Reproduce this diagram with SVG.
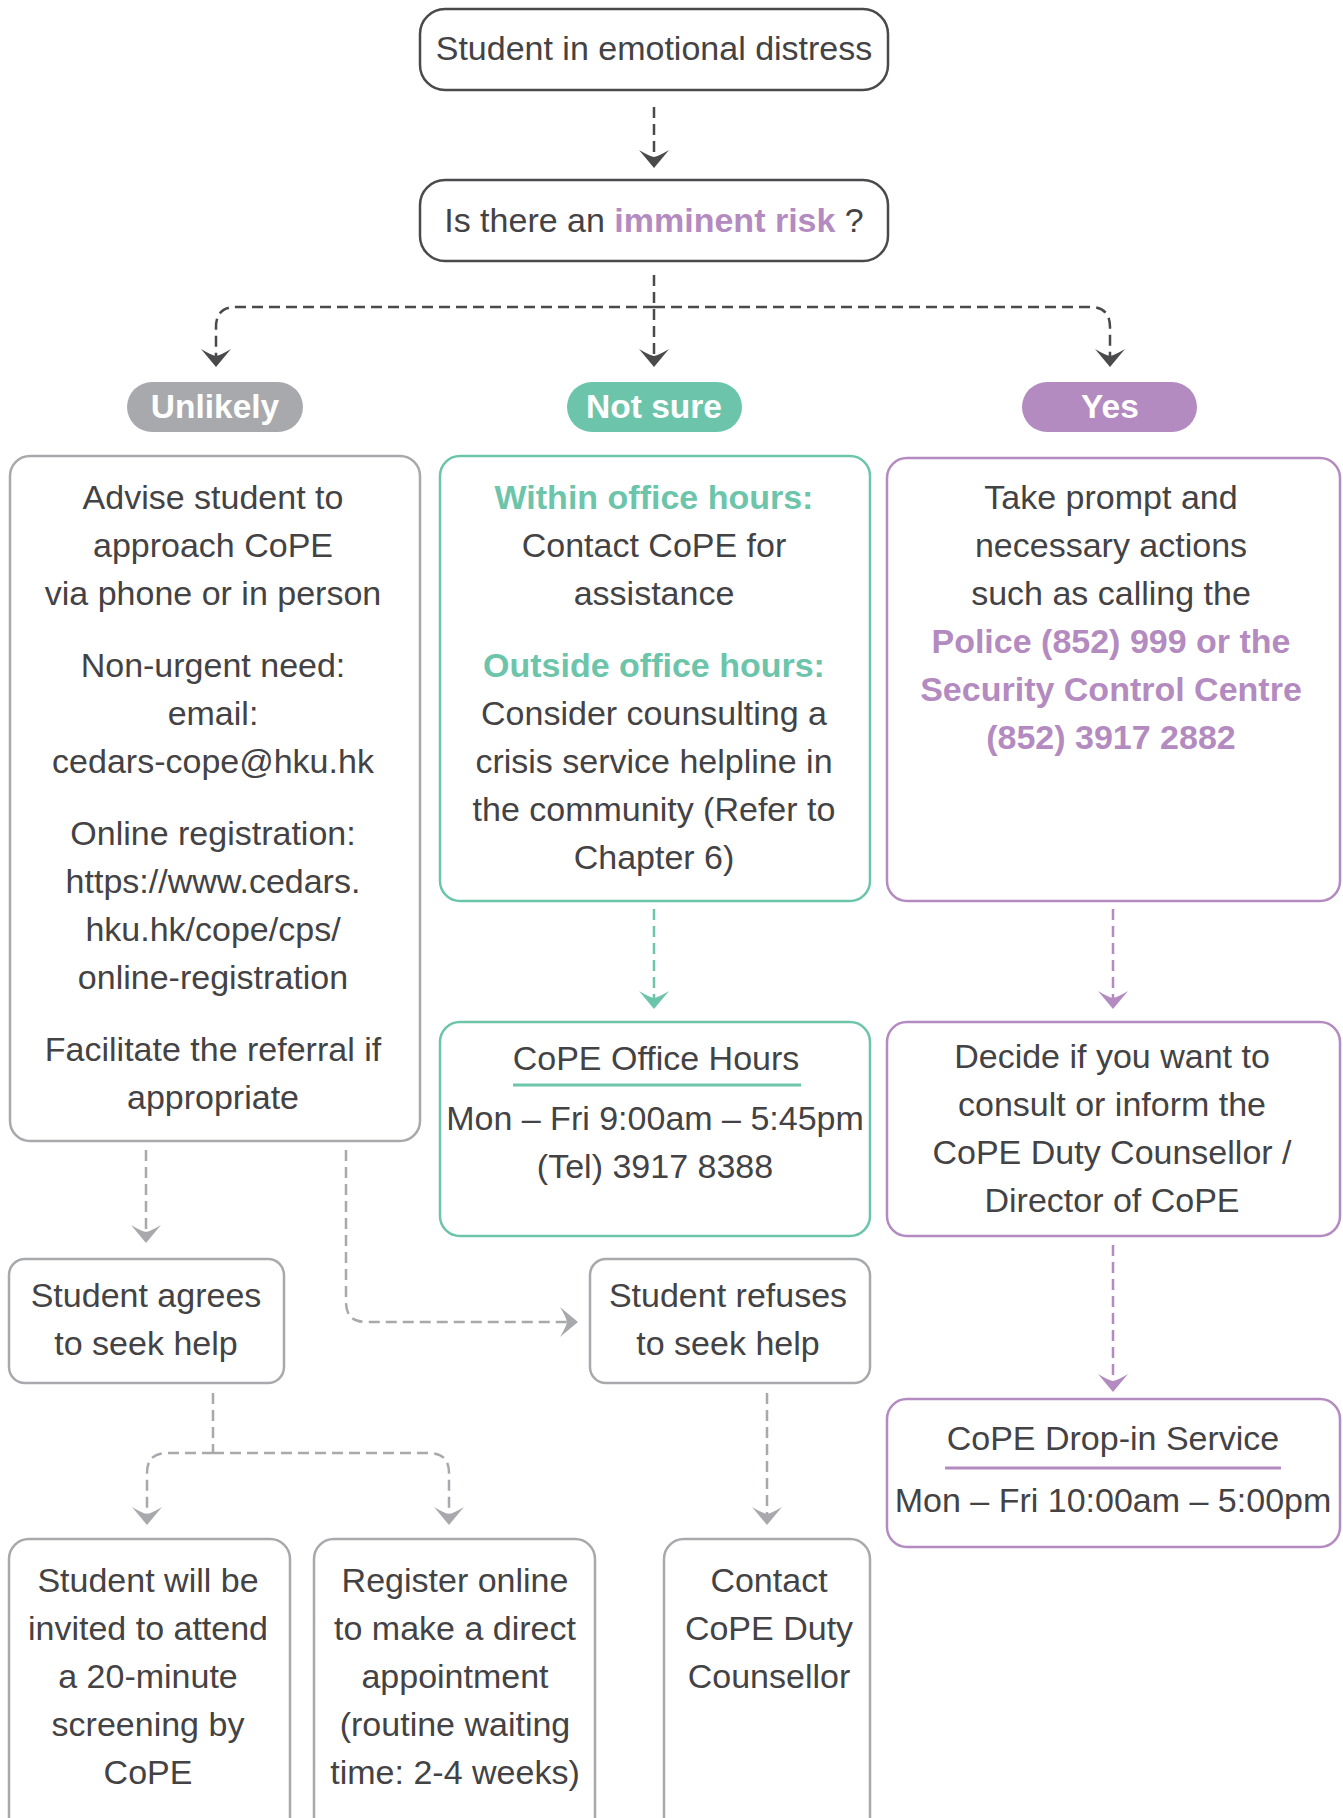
<svg xmlns="http://www.w3.org/2000/svg" width="1343" height="1818" viewBox="0 0 1343 1818">
<style>
  text { font-family: "Liberation Sans", Arial, Helvetica, sans-serif; font-size: 34px; fill: #434244; text-anchor: middle; }
  .b { font-weight: bold; }
  .pill { font-weight: bold; fill: #ffffff; font-size: 33.5px; }
  .teal { fill: #6cc5aa; }
  .purple { fill: #b38bc0; }
  .box-dark { fill: #ffffff; stroke: #4a4a4c; stroke-width: 2.5; }
  .box-gray { fill: #ffffff; stroke: #a8a9ac; stroke-width: 2.5; }
  .box-teal { fill: #ffffff; stroke: #6cc5aa; stroke-width: 2.5; }
  .box-purple { fill: #ffffff; stroke: #b38bc0; stroke-width: 2.5; }
  .c { fill: none; stroke-width: 2.5; stroke-dasharray: 11 6; }
  .c-dark { stroke: #4a4a4c; marker-end: url(#ah-dark); }
  .c-gray { stroke: #a8a9ac; marker-end: url(#ah-gray); }
  .c-gray-n { stroke: #a8a9ac; }
  .c-teal { stroke: #6cc5aa; marker-end: url(#ah-teal); }
  .c-purple { stroke: #b38bc0; marker-end: url(#ah-purple); }
  .ul-teal { stroke: #6cc5aa; stroke-width: 3; }
  .ul-purple { stroke: #b38bc0; stroke-width: 3; }
</style>
<defs>
  <marker id="ah-dark" markerUnits="userSpaceOnUse" markerWidth="40" markerHeight="40" viewBox="-20 -20 40 40" refX="0" refY="0" orient="auto" overflow="visible">
    <path d="M8,0 L-10,-15 Q-4,-5 -3,0 Q-4,5 -10,15 Z" fill="#4a4a4c"/>
  </marker>
  <marker id="ah-gray" markerUnits="userSpaceOnUse" markerWidth="40" markerHeight="40" viewBox="-20 -20 40 40" refX="0" refY="0" orient="auto" overflow="visible">
    <path d="M8,0 L-10,-15 Q-4,-5 -3,0 Q-4,5 -10,15 Z" fill="#a8a9ac"/>
  </marker>
  <marker id="ah-teal" markerUnits="userSpaceOnUse" markerWidth="40" markerHeight="40" viewBox="-20 -20 40 40" refX="0" refY="0" orient="auto" overflow="visible">
    <path d="M8,0 L-10,-15 Q-4,-5 -3,0 Q-4,5 -10,15 Z" fill="#6cc5aa"/>
  </marker>
  <marker id="ah-purple" markerUnits="userSpaceOnUse" markerWidth="40" markerHeight="40" viewBox="-20 -20 40 40" refX="0" refY="0" orient="auto" overflow="visible">
    <path d="M8,0 L-10,-15 Q-4,-5 -3,0 Q-4,5 -10,15 Z" fill="#b38bc0"/>
  </marker>
</defs>
<rect width="1343" height="1818" fill="#ffffff"/>

<g id="connectors">
  <path class="c c-dark" d="M654,107 V160"/>
  <path class="c c-dark" d="M654,275 V359"/>
  <path class="c c-dark" d="M654,307 H236 Q216,307 216,327 V359"/>
  <path class="c c-dark" d="M654,307 H1090 Q1110,307 1110,327 V359"/>
  <path class="c c-teal" d="M654,909 V1001"/>
  <path class="c c-purple" d="M1113,909 V1001"/>
  <path class="c c-purple" d="M1113,1245 V1384"/>
  <path class="c c-gray" d="M146,1150 V1235"/>
  <path class="c c-gray" d="M346,1150 V1302 Q346,1322 366,1322 H570"/>
  <path class="c c-gray-n" d="M213,1393 V1453"/>
  <path class="c c-gray" d="M213,1453 H167 Q147,1453 147,1473 V1517"/>
  <path class="c c-gray" d="M213,1453 H429 Q449,1453 449,1473 V1517"/>
  <path class="c c-gray" d="M767,1393 V1517"/>
</g>

<g id="n-distress">
  <rect class="box-dark" x="420" y="9" width="468" height="81" rx="25"/>
  <text x="654" y="60">Student in emotional distress</text>
</g>

<g id="n-risk">
  <rect class="box-dark" x="420" y="180" width="468" height="81" rx="25"/>
  <text x="654" y="232">Is there an <tspan class="b purple">imminent risk</tspan> ?</text>
</g>

<g id="n-unlikely">
  <rect x="127" y="382" width="176" height="50" rx="25" fill="#a8a9ac"/>
  <text class="pill" x="215" y="418">Unlikely</text>
</g>
<g id="n-notsure">
  <rect x="567" y="382" width="175" height="50" rx="25" fill="#6cc5aa"/>
  <text class="pill" x="654" y="418">Not sure</text>
</g>
<g id="n-yes">
  <rect x="1022" y="382" width="175" height="50" rx="25" fill="#b38bc0"/>
  <text class="pill" x="1110" y="418">Yes</text>
</g>

<g id="n-advise">
  <rect class="box-gray" x="10" y="456" width="410" height="685" rx="20"/>
  <text x="213" y="509">Advise student to</text>
  <text x="213" y="557">approach CoPE</text>
  <text x="213" y="605">via phone or in person</text>
  <text x="213" y="677">Non-urgent need:</text>
  <text x="213" y="725">email:</text>
  <text x="213" y="773">cedars-cope@hku.hk</text>
  <text x="213" y="845">Online registration:</text>
  <text x="213" y="893">https://www.cedars.</text>
  <text x="213" y="941">hku.hk/cope/cps/</text>
  <text x="213" y="989">online-registration</text>
  <text x="213" y="1061">Facilitate the referral if</text>
  <text x="213" y="1109">appropriate</text>
</g>

<g id="n-office">
  <rect class="box-teal" x="440" y="456" width="430" height="445" rx="20"/>
  <text class="b teal" x="654" y="509">Within office hours:</text>
  <text x="654" y="557">Contact CoPE for</text>
  <text x="654" y="605">assistance</text>
  <text class="b teal" x="654" y="677">Outside office hours:</text>
  <text x="654" y="725">Consider counsulting a</text>
  <text x="654" y="773">crisis service helpline in</text>
  <text x="654" y="821">the community (Refer to</text>
  <text x="654" y="869">Chapter 6)</text>
</g>

<g id="n-prompt">
  <rect class="box-purple" x="887" y="458" width="453" height="443" rx="20"/>
  <text x="1111" y="509">Take prompt and</text>
  <text x="1111" y="557">necessary actions</text>
  <text x="1111" y="605">such as calling the</text>
  <text class="b purple" x="1111" y="653">Police (852) 999 or the</text>
  <text class="b purple" x="1111" y="701">Security Control Centre</text>
  <text class="b purple" x="1111" y="749">(852) 3917 2882</text>
</g>

<g id="n-hours">
  <rect class="box-teal" x="440" y="1022" width="430" height="214" rx="20"/>
  <text x="656" y="1070">CoPE Office Hours</text>
  <line class="ul-teal" x1="513" y1="1085" x2="801" y2="1085"/>
  <text x="655" y="1130">Mon – Fri 9:00am – 5:45pm</text>
  <text x="655" y="1178">(Tel) 3917 8388</text>
</g>

<g id="n-decide">
  <rect class="box-purple" x="887" y="1022" width="453" height="214" rx="20"/>
  <text x="1112" y="1068">Decide if you want to</text>
  <text x="1112" y="1116">consult or inform the</text>
  <text x="1112" y="1164">CoPE Duty Counsellor /</text>
  <text x="1112" y="1212">Director of CoPE</text>
</g>

<g id="n-agrees">
  <rect class="box-gray" x="9" y="1259" width="275" height="124" rx="16"/>
  <text x="146" y="1307">Student agrees</text>
  <text x="146" y="1355">to seek help</text>
</g>

<g id="n-refuses">
  <rect class="box-gray" x="590" y="1259" width="280" height="124" rx="16"/>
  <text x="728" y="1307">Student refuses</text>
  <text x="728" y="1355">to seek help</text>
</g>

<g id="n-dropin">
  <rect class="box-purple" x="887" y="1399" width="453" height="148" rx="20"/>
  <text x="1113" y="1450">CoPE Drop-in Service</text>
  <line class="ul-purple" x1="945" y1="1468" x2="1281" y2="1468"/>
  <text x="1113" y="1512">Mon – Fri 10:00am – 5:00pm</text>
</g>

<g id="n-screening">
  <rect class="box-gray" x="9" y="1539" width="281" height="330" rx="20"/>
  <text x="148" y="1592">Student will be</text>
  <text x="148" y="1640">invited to attend</text>
  <text x="148" y="1688">a 20-minute</text>
  <text x="148" y="1736">screening by</text>
  <text x="148" y="1784">CoPE</text>
</g>

<g id="n-register">
  <rect class="box-gray" x="314" y="1539" width="281" height="330" rx="20"/>
  <text x="455" y="1592">Register online</text>
  <text x="455" y="1640">to make a direct</text>
  <text x="455" y="1688">appointment</text>
  <text x="455" y="1736">(routine waiting</text>
  <text x="455" y="1784">time: 2-4 weeks)</text>
</g>

<g id="n-contact">
  <rect class="box-gray" x="664" y="1539" width="206" height="330" rx="20"/>
  <text x="769" y="1592">Contact</text>
  <text x="769" y="1640">CoPE Duty</text>
  <text x="769" y="1688">Counsellor</text>
</g>
</svg>
